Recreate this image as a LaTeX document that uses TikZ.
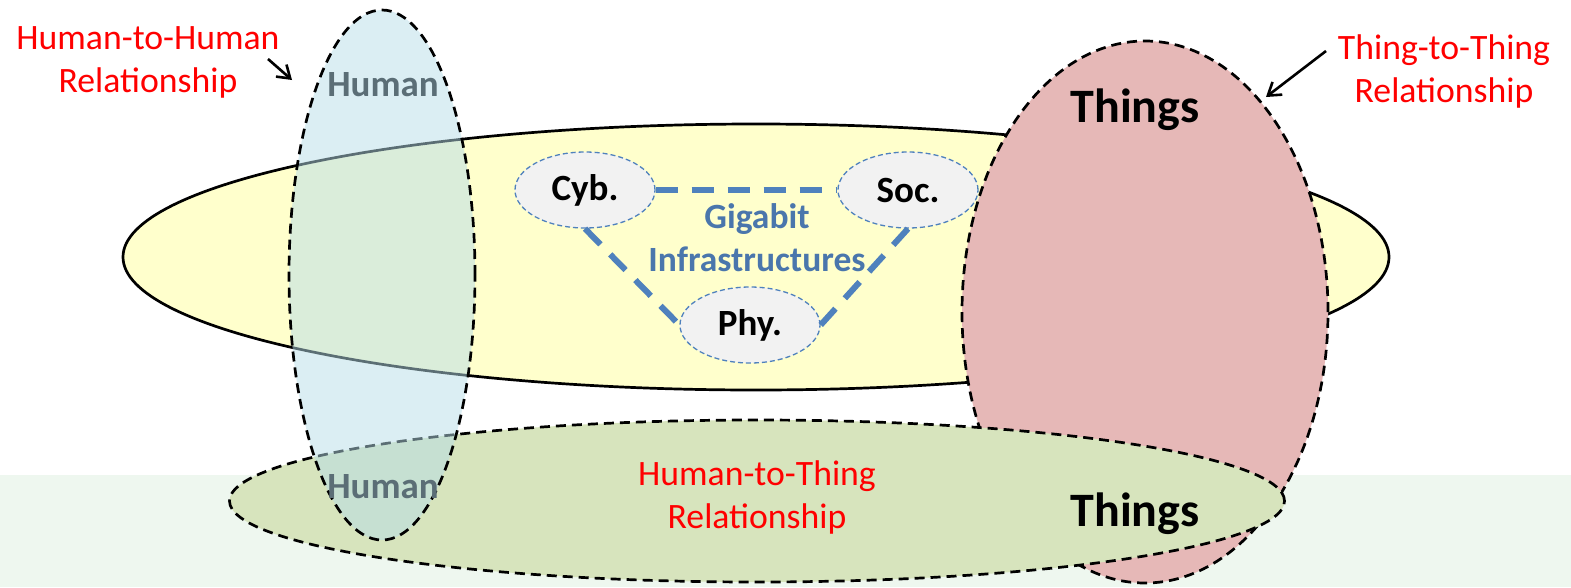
\documentclass[tikz,border=0pt]{standalone}
\usepackage{fontspec}
\setmainfont{Carlito}
\usetikzlibrary{shapes.geometric,arrows.meta}
\definecolor{bandc}{HTML}{EEF7EF}
\definecolor{yelc}{HTML}{FFFFCC}
\definecolor{redc}{HTML}{E6B8B7}
\definecolor{grnc}{HTML}{D7E4BD}
\definecolor{humc}{HTML}{B7DDE8}
\definecolor{smallc}{HTML}{F2F2F2}
\definecolor{bluel}{HTML}{4F81BD}
\definecolor{bluet}{HTML}{4A76AC}
\definecolor{grayt}{HTML}{5B6E76}
\tikzset{
  big/.style={ellipse, inner sep=0pt, draw=black, line width=2.7pt},
  dsh/.style={dash pattern=on 10pt off 6pt},
  small/.style={ellipse, inner sep=0pt, minimum width=140pt, minimum height=76pt,
     fill=smallc, draw=bluel, line width=1.3pt, dash pattern=on 5pt off 3pt,
     font=\fontsize{37}{43}\selectfont\bfseries},
  conn/.style={draw=bluel, line width=6pt, dash pattern=on 22pt off 14pt},
  redtxt/.style={text=red, align=center, font=\fontsize{35.7}{43}\selectfont},
  thingtxt/.style={font=\fontsize{48}{52}\selectfont\bfseries},
  humtxt/.style={text=grayt, font=\fontsize{37}{40}\selectfont\bfseries},
  arr/.style={-{Straight Barb[length=12pt,width=16pt,line width=2.6pt]}, line width=2.6pt},
}
\begin{document}
\begin{tikzpicture}[x=1pt,y=-1pt]
\useasboundingbox (0,0) rectangle (1571,587);
\fill[bandc] (0,475) rectangle (1571,587);
% big shapes
\node[big, fill=yelc, minimum width=1266pt, minimum height=266pt] (core) at (756,257) {};
\node[big, dsh, fill=redc, minimum width=366pt, minimum height=542pt] (things) at (1145,312) {};
\node[big, dsh, fill=grnc, minimum width=1055pt, minimum height=162pt] (h2t) at (757,501) {};
\node[big, dsh, fill=humc, fill opacity=0.5, draw opacity=1, minimum width=186pt, minimum height=530pt] (human) at (382,275) {};
% small ellipses
\node[small] (cyb) at (585,190) {Cyb.};
\node[small] (soc) at (908,190) {Soc.};
\node[small] (phy) at (750,325) {Phy.};
\draw[conn] (cyb.east) -- (soc.west);
\draw[conn] (cyb.south) -- (phy.west);
\draw[conn] (soc.south) -- (phy.east);
\node[text=bluet, align=center, font=\fontsize{35.5}{43}\selectfont\bfseries] (giga) at (757,238) {Gigabit\\Infrastructures};
% labels
\node[humtxt] (humtop) at (383,85) {Human};
\node[humtxt] (humbot) at (383,487) {Human};
\node[thingtxt] (thtop) at (1135,110) {Things};
\node[thingtxt] (thbot) at (1135,514) {Things};
\node[redtxt] (h2h) at (148,62) {Human-to-Human\\Relationship};
\node[redtxt] (t2t) at (1444,71) {Thing-to-Thing\\Relationship};
\node[redtxt] (h2tl) at (757,497) {Human-to-Thing\\Relationship};
% arrows
\coordinate (a1s) at (268,59);
\coordinate (a1e) at (292,80);
\coordinate (a2s) at (1326,51);
\coordinate (a2e) at (1266,97);
\draw[arr] (a1s) -- (a1e);
\draw[arr] (a2s) -- (a2e);
\end{tikzpicture}
\end{document}
